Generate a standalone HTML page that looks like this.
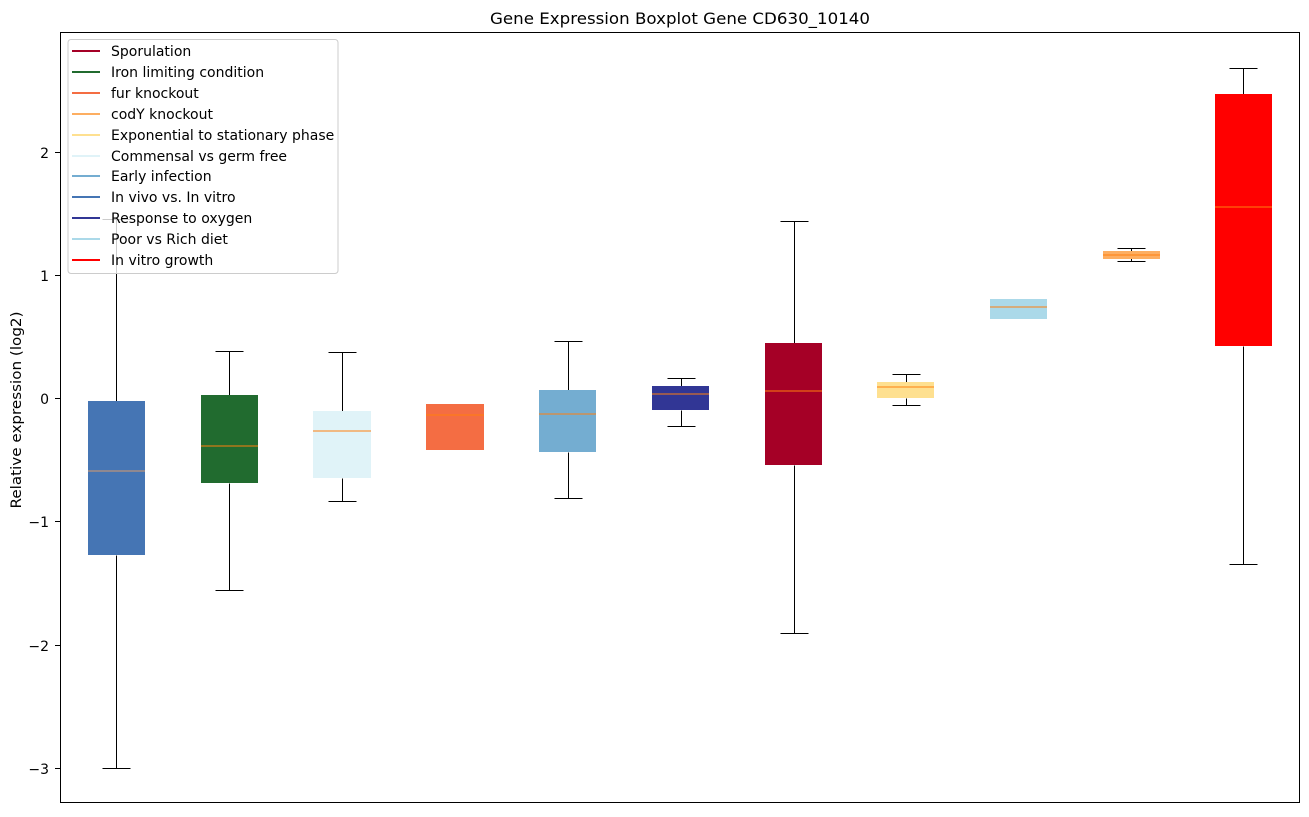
<!DOCTYPE html>
<html><head><meta charset="utf-8"><style>
html,body{margin:0;padding:0;background:#fff;}
svg text{font-family:"DejaVu Sans","Liberation Sans",sans-serif;}
</style></head><body>
<svg width="1309" height="812" xmlns="http://www.w3.org/2000/svg">
<rect width="1309" height="812" fill="#fff"/>
<text x="680" y="24" font-size="16" text-anchor="middle" fill="#000" textLength="380" lengthAdjust="spacingAndGlyphs">Gene Expression Boxplot Gene CD630_10140</text>
<g stroke="#000" stroke-width="1" fill="none" transform="translate(0.5,0.5)">
<line x1="116" y1="219" x2="116" y2="401"/><line x1="116" y1="555" x2="116" y2="768"/>
<line x1="102" y1="768" x2="130" y2="768"/><line x1="102" y1="219" x2="130" y2="219"/>
<line x1="229" y1="351" x2="229" y2="395"/><line x1="229" y1="483" x2="229" y2="590"/>
<line x1="215" y1="351" x2="243" y2="351"/><line x1="215" y1="590" x2="243" y2="590"/>
<line x1="342" y1="352" x2="342" y2="411"/><line x1="342" y1="478" x2="342" y2="501"/>
<line x1="328" y1="352" x2="356" y2="352"/><line x1="328" y1="501" x2="356" y2="501"/>
<line x1="568" y1="341" x2="568" y2="390"/><line x1="568" y1="452" x2="568" y2="498"/>
<line x1="554" y1="341" x2="582" y2="341"/><line x1="554" y1="498" x2="582" y2="498"/>
<line x1="681" y1="378" x2="681" y2="386"/><line x1="681" y1="410" x2="681" y2="426"/>
<line x1="667" y1="378" x2="695" y2="378"/><line x1="667" y1="426" x2="695" y2="426"/>
<line x1="794" y1="221" x2="794" y2="343"/><line x1="794" y1="465" x2="794" y2="633"/>
<line x1="780" y1="221" x2="808" y2="221"/><line x1="780" y1="633" x2="808" y2="633"/>
<line x1="906" y1="374" x2="906" y2="382"/><line x1="906" y1="398" x2="906" y2="405"/>
<line x1="892" y1="374" x2="920" y2="374"/><line x1="892" y1="405" x2="920" y2="405"/>
<line x1="1131" y1="248" x2="1131" y2="261"/>
<line x1="1117" y1="248" x2="1145" y2="248"/><line x1="1117" y1="261" x2="1145" y2="261"/>
<line x1="1243" y1="68" x2="1243" y2="94"/><line x1="1243" y1="346" x2="1243" y2="564"/>
<line x1="1229" y1="68" x2="1257" y2="68"/><line x1="1229" y1="564" x2="1257" y2="564"/>
</g>
<rect x="88" y="401" width="57" height="154" fill="#4575b4"/>
<rect x="201" y="395" width="57" height="88" fill="#216b2f"/>
<rect x="313" y="411" width="58" height="67" fill="#e0f3f8"/>
<rect x="426" y="404" width="58" height="46" fill="#f46d43"/>
<rect x="539" y="390" width="57" height="62" fill="#74add1"/>
<rect x="652" y="386" width="57" height="24" fill="#313695"/>
<rect x="765" y="343" width="57" height="122" fill="#a50026"/>
<rect x="877" y="382" width="57" height="16" fill="#fee090"/>
<rect x="990" y="299" width="57" height="20" fill="#abd9e9"/>
<rect x="1103" y="251" width="57" height="8" fill="#fdae61"/>
<rect x="1215" y="94" width="57" height="252" fill="#ff0000"/>
<g stroke="#ff7f0e" stroke-width="1">
<line x1="88" y1="471" x2="145" y2="471" stroke="#d99a6c"/>
<line x1="201" y1="446" x2="258" y2="446"/>
<line x1="313" y1="431" x2="371" y2="431"/>
<line x1="426" y1="415" x2="484" y2="415"/>
<line x1="539" y1="414" x2="596" y2="414"/>
<line x1="652" y1="394" x2="709" y2="394"/>
<line x1="765" y1="391" x2="822" y2="391"/>
<line x1="877" y1="387" x2="934" y2="387"/>
<line x1="990" y1="307" x2="1047" y2="307"/>
<line x1="1103" y1="255" x2="1160" y2="255"/>
<line x1="1215" y1="207" x2="1272" y2="207"/>
</g>
<rect x="60.5" y="32.5" width="1239" height="770" fill="none" stroke="#000" stroke-width="1"/>
<g stroke="#000"><line x1="55" y1="152.5" x2="60" y2="152.5"/><line x1="55" y1="275.5" x2="60" y2="275.5"/><line x1="55" y1="398.5" x2="60" y2="398.5"/><line x1="55" y1="521.5" x2="60" y2="521.5"/><line x1="55" y1="645.5" x2="60" y2="645.5"/><line x1="55" y1="768.5" x2="60" y2="768.5"/></g>
<g font-size="14" text-anchor="end" fill="#000">
<text x="49" y="158">2</text><text x="49" y="281">1</text><text x="49" y="404">0</text>
<text x="49" y="527">−1</text><text x="49" y="651">−2</text><text x="49" y="774">−3</text>
</g>
<text transform="translate(21,410) rotate(-90)" font-size="14" text-anchor="middle" textLength="197" lengthAdjust="spacingAndGlyphs">Relative expression (log2)</text>
<rect x="68" y="39.5" width="270" height="234" rx="3" fill="#fff" fill-opacity="0.8" stroke="#ccc"/>
<g stroke-width="2">
<line x1="72" y1="51" x2="100" y2="51" stroke="#a50026"/>
<line x1="72" y1="72" x2="100" y2="72" stroke="#216b2f"/>
<line x1="72" y1="93" x2="100" y2="93" stroke="#f46d43"/>
<line x1="72" y1="114" x2="100" y2="114" stroke="#fdae61"/>
<line x1="72" y1="135" x2="100" y2="135" stroke="#fee090"/>
<line x1="72" y1="156" x2="100" y2="156" stroke="#e0f3f8"/>
<line x1="72" y1="176" x2="100" y2="176" stroke="#74add1"/>
<line x1="72" y1="197" x2="100" y2="197" stroke="#4575b4"/>
<line x1="72" y1="218" x2="100" y2="218" stroke="#313695"/>
<line x1="72" y1="239" x2="100" y2="239" stroke="#abd9e9"/>
<line x1="72" y1="260" x2="100" y2="260" stroke="#ff0000"/>
</g>
<g font-size="14" fill="#000">
<text x="111" y="56">Sporulation</text>
<text x="111" y="77">Iron limiting condition</text>
<text x="111" y="98">fur knockout</text>
<text x="111" y="119">codY knockout</text>
<text x="111" y="140">Exponential to stationary phase</text>
<text x="111" y="161">Commensal vs germ free</text>
<text x="111" y="181">Early infection</text>
<text x="111" y="202">In vivo vs. In vitro</text>
<text x="111" y="223">Response to oxygen</text>
<text x="111" y="244">Poor vs Rich diet</text>
<text x="111" y="265">In vitro growth</text>
</g>
</svg>
</body></html>
